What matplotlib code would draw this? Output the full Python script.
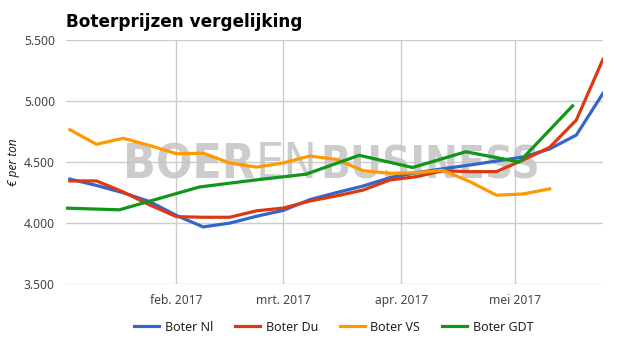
import numpy as np
import pandas as pd
import matplotlib
matplotlib.use('Agg')
import matplotlib.pyplot as plt
import matplotlib.dates as mdates
from matplotlib.ticker import FuncFormatter, FixedLocator

plt.rcParams['font.family'] = ['Noto Sans', 'DejaVu Sans']

# weekly series (Wednesdays)
weeks = pd.date_range('2017-01-04', '2017-05-24', freq='7D')
boter_nl = [4360, 4308, 4248, 4175, 4062, 3968, 3999, 4055, 4103, 4191, 4249,
			4303, 4371, 4412, 4445, 4475, 4508, 4541, 4607, 4721, 5063]
boter_du = [4345, 4345, 4255, 4148, 4052, 4047, 4047, 4100, 4122, 4180, 4222,
			4270, 4352, 4380, 4428, 4421, 4421, 4516, 4620, 4844, 5342]
boter_vs = [4765, 4645, 4695, 4635, 4568, 4572, 4492, 4458, 4492, 4549, 4522,
			4429, 4407, 4412, 4432, 4340, 4228, 4238, 4280]

# GDT auctions (every two weeks)
gdt_dates = pd.to_datetime(['2017-01-03', '2017-01-17', '2017-02-07', '2017-02-21',
							'2017-03-07', '2017-03-21', '2017-04-04', '2017-04-18',
							'2017-05-02', '2017-05-16'])
boter_gdt = [4122, 4108, 4295, 4350, 4400, 4555, 4455, 4584, 4500, 4960]

month_ticks = pd.to_datetime(['2017-02-01', '2017-03-01', '2017-04-01', '2017-05-01'])
month_labels = ['feb. 2017', 'mrt. 2017', 'apr. 2017', 'mei 2017']

fig = plt.figure(figsize=(6.25, 3.55), dpi=100)
ax = fig.add_axes([0.1056, 0.2, 0.8592, 0.6873])
renderer = fig.canvas.get_renderer()

lw = 2.3
ax.plot(weeks, boter_nl, color='#3366cc', lw=lw, label='Boter Nl', zorder=4, solid_joinstyle='round')
ax.plot(weeks, boter_du, color='#dc3912', lw=lw, label='Boter Du', zorder=4, solid_joinstyle='round')
ax.plot(weeks[:len(boter_vs)], boter_vs, color='#ff9900', lw=lw, label='Boter VS', zorder=4, solid_joinstyle='round')
ax.plot(gdt_dates, boter_gdt, color='#109618', lw=lw, label='Boter GDT', zorder=4, solid_joinstyle='round')

ax.set_xlim(pd.Timestamp('2017-01-03'), pd.Timestamp('2017-05-24'))
ax.set_ylim(3500, 5500)
ax.set_yticks(np.arange(3500, 5501, 500))
ax.yaxis.set_major_formatter(FuncFormatter(lambda v, p: '{:,.0f}'.format(v).replace(',', '.')))
ax.xaxis.set_major_locator(FixedLocator(mdates.date2num(month_ticks)))
ax.set_xticklabels(month_labels)

for s in ax.spines.values():
	s.set_visible(False)
ax.grid(True, color='#cccccc', lw=1)
ax.set_axisbelow(True)
ax.tick_params(length=0, labelsize=8.7, colors='#444444')
ax.tick_params(axis='y', pad=8)
ax.tick_params(axis='x', pad=7)

fig.text(0.021, 0.544, '€ per ton', fontsize=8.5, style='italic', color='#222222',
		 rotation=90, va='center', ha='center')

def fit_width(t, target_px):
	# rescale font so the text spans target_px pixels
	w = t.get_window_extent(renderer).width
	t.set_fontsize(t.get_fontsize() * target_px / w)

# watermark: BOER (bold) EN (light) BUSINESS (bold)
inv = ax.transAxes.inverted()
parts = [('BOER', 'bold', 123, 132), ('EN', 'light', 256, 62), ('BUSINESS', 'bold', 320, 220)]
for word, weight, xpix, wpix in parts:
	xa = inv.transform((xpix, 0))[0]
	t = ax.text(xa, 0.434, word, transform=ax.transAxes, fontsize=38, fontweight=weight,
				fontstretch='condensed', family='DejaVu Sans', color='#c4c4c4', alpha=0.85,
				va='baseline', ha='left', zorder=3)
	fit_width(t, wpix)

title = fig.text(0.1056, 0.924, 'Boterprijzen vergelijking', fontsize=14, fontweight='bold',
				 family='DejaVu Sans', color='#000000', va='baseline', ha='left')
fit_width(title, 236)

fig.legend(loc='center', bbox_to_anchor=(0.534, 0.078), ncol=4, frameon=False,
		   fontsize=9, handlelength=2.0, handletextpad=0.45, columnspacing=1.75,
		   labelcolor='#222222')

fig.savefig('out.png', dpi=100)
